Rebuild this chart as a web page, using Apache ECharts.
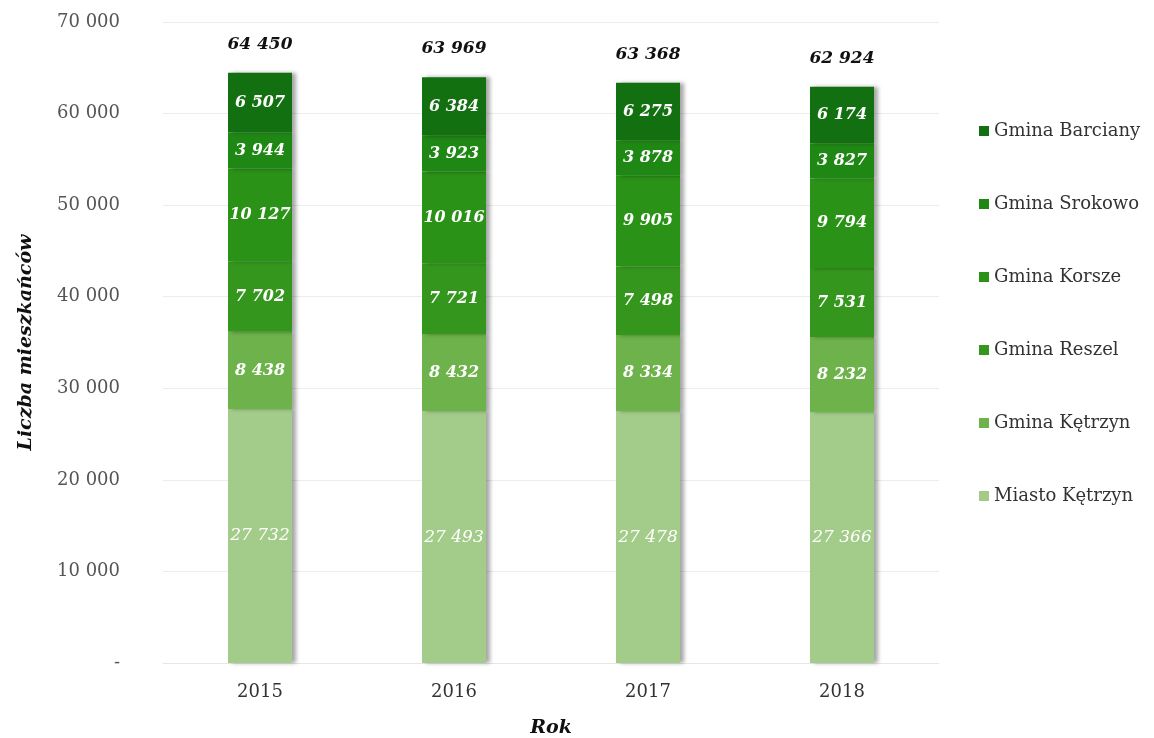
<!DOCTYPE html>
<html>
<head>
<meta charset="utf-8">
<script src="https://cdn.jsdelivr.net/npm/echarts@6/dist/echarts.min.js"></script>
<style>
  html, body { margin: 0; padding: 0; background: #fff; }
  #chart { width: 1154px; height: 738px; }
</style>
</head>
<body>
<div id="chart"></div>
<script>
  var years = ['2015', '2016', '2017', '2018'];
  var miastoKetrzyn = [27732, 27493, 27478, 27366];
  var gminaKetrzyn = [8438, 8432, 8334, 8232];
  var gminaReszel = [7702, 7721, 7498, 7531];
  var gminaKorsze = [10127, 10016, 9905, 9794];
  var gminaSrokowo = [3944, 3923, 3878, 3827];
  var gminaBarciany = [6507, 6384, 6275, 6174];
  var totals = [64450, 63969, 63368, 62924];

  function fmt(v) {
    return String(v).replace(/\B(?=(\d{3})+(?!\d))/g, ' ');
  }

  var serif = '"DejaVu Serif", "Liberation Serif", serif';

  // one stacked piece of the bar
  function seg(name, data, color, bold) {
    return {
      name: name,
      type: 'bar',
      stack: 'total',
      barWidth: '33%',
      data: data,
      itemStyle: {
        color: color,
        shadowColor: 'rgba(0,0,0,0.35)',
        shadowBlur: 4,
        shadowOffsetX: 4
      },
      label: {
        show: true,
        position: 'inside',
        color: '#fff',
        fontFamily: serif,
        fontStyle: 'italic',
        fontWeight: bold ? 'bold' : 'normal',
        fontSize: bold ? 16 : 17,
        formatter: function (p) { return fmt(p.value); }
      }
    };
  }

  var myChart = echarts.init(document.getElementById('chart'));
  var option = {
    animation: false,
    backgroundColor: '#fff',
    grid: { left: 163, right: 215, top: 22, bottom: 75, outerBoundsMode: 'none' },
    legend: {
      orient: 'vertical',
      left: 974,
      top: 116,
      itemGap: 53,
      itemWidth: 10,
      itemHeight: 10,
      icon: 'rect',
      textStyle: { fontFamily: serif, fontSize: 18, lineHeight: 20, color: '#333' },
      data: ['Gmina Barciany', 'Gmina Srokowo', 'Gmina Korsze', 'Gmina Reszel', 'Gmina Kętrzyn', 'Miasto Kętrzyn']
    },
    xAxis: {
      type: 'category',
      data: years,
      name: 'Rok',
      nameLocation: 'middle',
      nameGap: 56,
      nameTextStyle: { fontFamily: serif, fontStyle: 'italic', fontWeight: 'bold', fontSize: 19, color: '#111' },
      axisLine: { lineStyle: { color: '#e6e6e6' } },
      axisTick: { show: false },
      axisLabel: { fontFamily: serif, fontSize: 18, color: '#333', margin: 20 }
    },
    yAxis: {
      type: 'value',
      min: 0,
      max: 70000,
      interval: 10000,
      name: 'Liczba mieszkańców',
      nameLocation: 'middle',
      nameGap: 127,
      nameTextStyle: { fontFamily: serif, fontStyle: 'italic', fontWeight: 'bold', fontSize: 19, color: '#111' },
      axisLine: { show: false },
      axisTick: { show: false },
      splitLine: { lineStyle: { color: '#ececec' } },
      axisLabel: {
        fontFamily: serif,
        fontSize: 18,
        color: '#555',
        margin: 43,
        formatter: function (v) { return v === 0 ? '-' : fmt(v); }
      }
    },
    series: [
      seg('Miasto Kętrzyn', miastoKetrzyn, '#a3cc8a', false),
      seg('Gmina Kętrzyn', gminaKetrzyn, '#6db24a', true),
      seg('Gmina Reszel', gminaReszel, '#34961d', true),
      seg('Gmina Korsze', gminaKorsze, '#2b9218', true),
      seg('Gmina Srokowo', gminaSrokowo, '#1f8714', true),
      seg('Gmina Barciany', gminaBarciany, '#137010', true),
      {
        // zero-height piece on top, only to carry the totals
        name: 'Suma',
        type: 'bar',
        stack: 'total',
        barWidth: '33%',
        data: years.map(function () { return 0; }),
        itemStyle: { color: 'transparent' },
        label: {
          show: true,
          position: 'top',
          distance: 20,
          color: '#111',
          fontFamily: serif,
          fontStyle: 'italic',
          fontWeight: 'bold',
          fontSize: 17,
          formatter: function (p) { return fmt(totals[p.dataIndex]); }
        }
      }
    ]
  };
  myChart.setOption(option, true);
</script>
</body>
</html>
